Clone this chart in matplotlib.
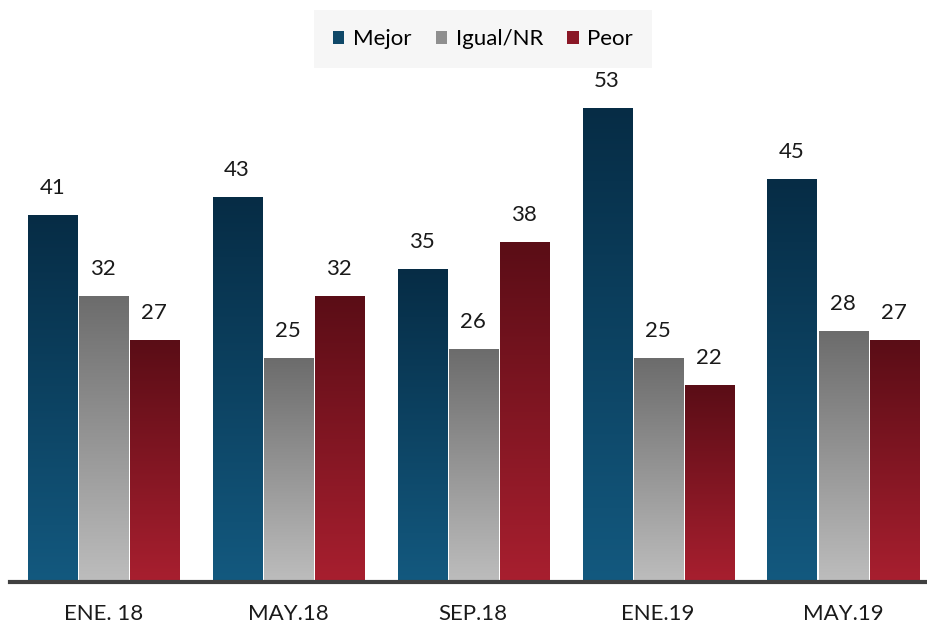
import numpy as np
import matplotlib.pyplot as plt
from matplotlib.colors import LinearSegmentedColormap
from matplotlib.patches import Patch

plt.rcParams['font.family'] = ['Lato', 'DejaVu Sans']

categories = ['ENE. 18', 'MAY.18', 'SEP.18', 'ENE.19', 'MAY.19']
series = ['Mejor', 'Igual/NR', 'Peor']
mejor = [41, 43, 35, 53, 45]
igual = [32, 25, 26, 25, 28]
peor = [27, 32, 38, 22, 27]

# (top color, bottom color) per series
grads = [('#062c45', '#13597f'), ('#6c6c6c', '#bdbdbd'), ('#5a0d16', '#a81f2f')]
legend_colors = ['#0f4868', '#8f8f8f', '#8a1726']

fig = plt.figure(figsize=(9.27, 6.24), dpi=100)
ax = fig.add_axes([0.011, 0.0673, 0.989, 0.9327])

width = 0.265
offsets = [-0.276, 0, 0.276]
x = np.arange(len(categories))

for vals, off, (ctop, cbot) in zip([mejor, igual, peor], offsets, grads):
    cmap = LinearSegmentedColormap.from_list('g', [cbot, ctop])
    bars = ax.bar(x + off, vals, width, color='none', edgecolor='none')
    for b, v in zip(bars, vals):
        x0 = b.get_x()
        grad = np.linspace(0, 1, 256).reshape(-1, 1)
        im = ax.imshow(grad, cmap=cmap, aspect='auto', origin='lower',
                       extent=[x0, x0 + width, 0, v], zorder=2)
        im.set_clip_path(b)
        ax.text(x0 + width / 2, v + 1.9, str(v), ha='center', va='bottom',
                fontsize=16, color='#1a1a1a')

ax.set_xlim(-0.503, 4.454)
ax.set_ylim(0, 65.03)
for s in ['top', 'right', 'left']:
    ax.spines[s].set_visible(False)
ax.spines['bottom'].set_color('#404040')
ax.spines['bottom'].set_linewidth(3)
ax.set_yticks([])
ax.set_xticks(x)
ax.set_xticklabels(categories, fontsize=16, color='#1a1a1a')
ax.tick_params(axis='x', length=0, pad=16)

handles = [Patch(facecolor=c, edgecolor='none') for c in legend_colors]
leg = fig.legend(handles, series, loc='center', bbox_to_anchor=(0.521, 0.937),
                 ncol=3, frameon=True, fontsize=16, handlelength=0.5,
                 handleheight=0.5, handletextpad=0.4, columnspacing=1.1,
                 borderpad=0.55)
leg.get_frame().set_facecolor('#f4f4f4')
leg.get_frame().set_edgecolor('none')
leg.get_frame().set_boxstyle('square')

fig.savefig('out.png', dpi=100)
